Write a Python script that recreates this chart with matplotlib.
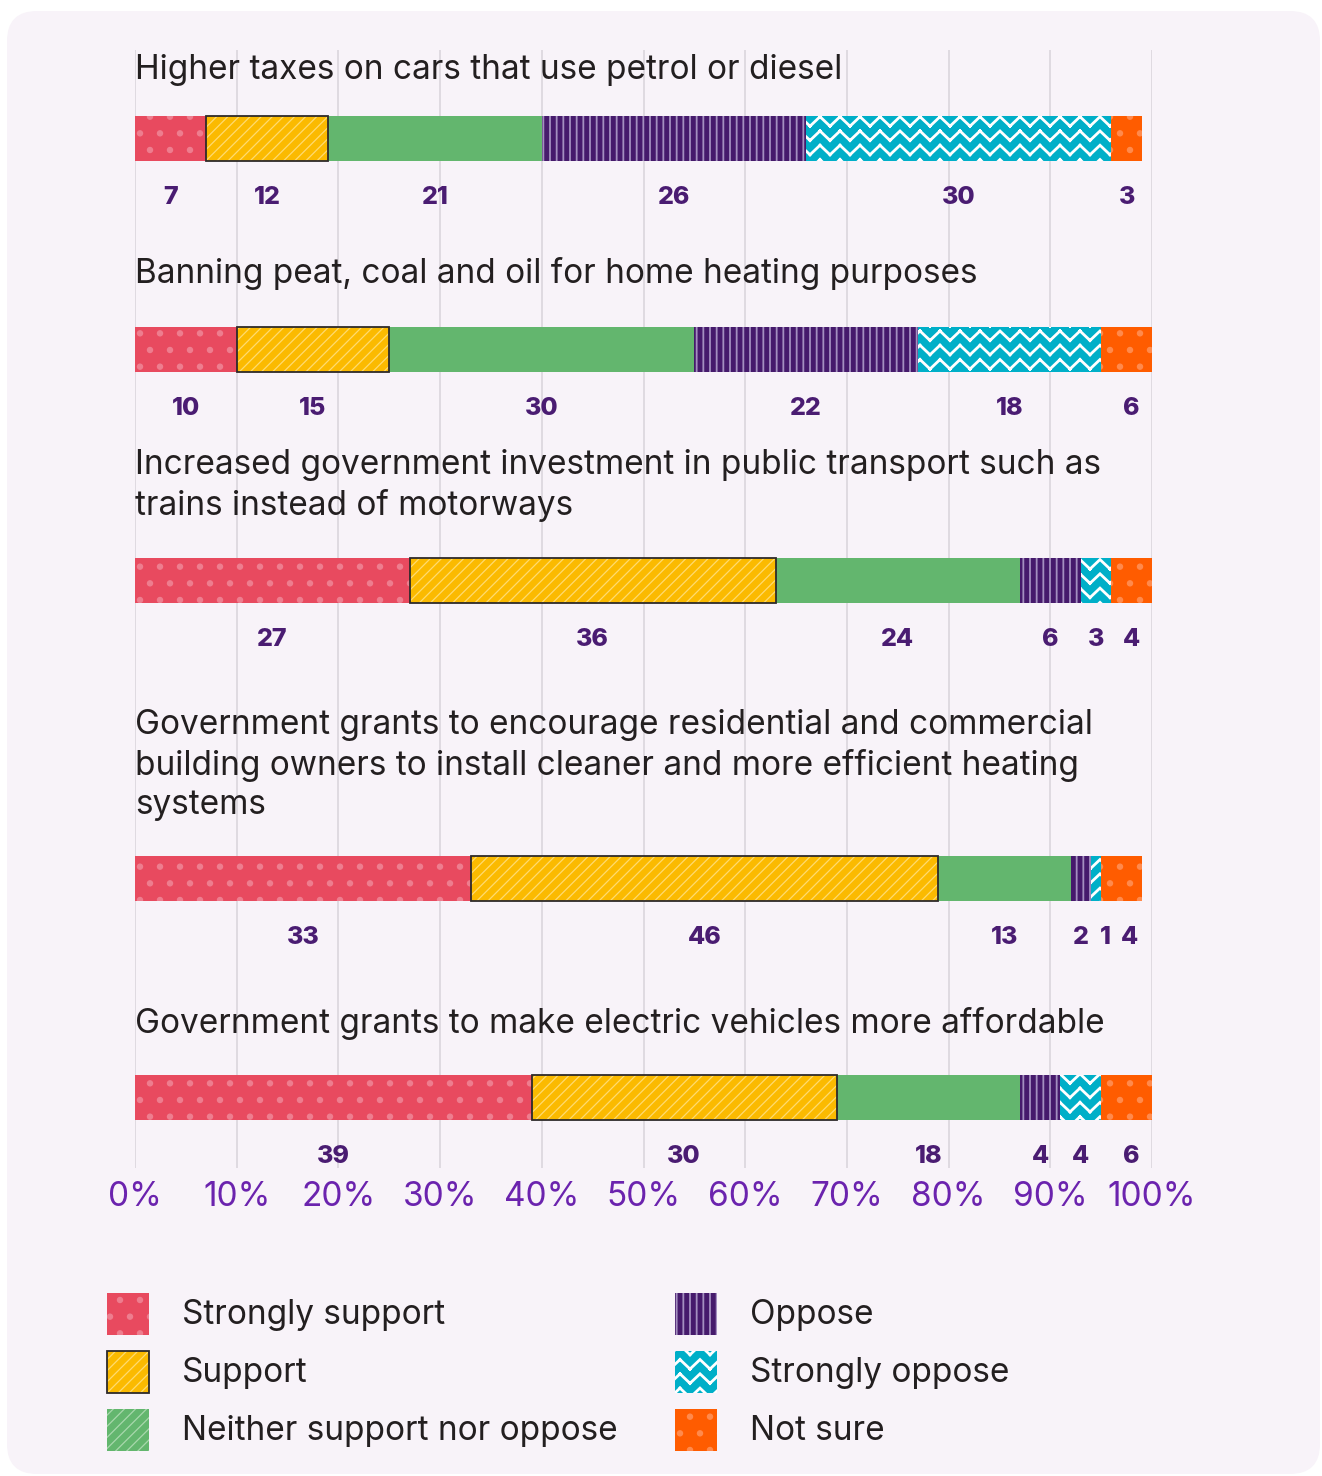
import numpy as np
import matplotlib
matplotlib.use("Agg")
import matplotlib.pyplot as plt
from matplotlib import hatch as mhatch
from matplotlib.path import Path
from matplotlib.patches import Rectangle, FancyBboxPatch

# ---------------------------------------------------------------- data
statements = [
    "Higher taxes on cars that use petrol or diesel",
    "Banning peat, coal and oil for home heating purposes",
    "Increased government investment in public transport such as\ntrains instead of motorways",
    "Government grants to encourage residential and commercial\nbuilding owners to install cleaner and more efficient heating\nsystems",
    "Government grants to make electric vehicles more affordable",
]
responses = ["Strongly support", "Support", "Neither support nor oppose",
             "Oppose", "Strongly oppose", "Not sure"]
strongly_support = [7, 10, 27, 33, 39]
support = [12, 15, 36, 46, 30]
neither = [21, 30, 24, 13, 18]
oppose = [26, 22, 6, 2, 4]
strongly_oppose = [30, 18, 3, 1, 4]
not_sure = [3, 6, 4, 4, 6]
tick_values = list(range(0, 101, 10))
tick_labels = [f"{v}%" for v in tick_values]

series = [strongly_support, support, neither, oppose, strongly_oppose, not_sure]


# ---------------------------------------------------------------- hatches
class VLineHatch(mhatch.HatchPatternBase):
    """Close-set vertical stripes ('|')."""
    per_mark = 15

    def __init__(self, hatch, density):
        self.num_lines = hatch.count('|') * self.per_mark
        self.num_vertices = self.num_lines * 2

    def set_vertices_and_codes(self, vertices, codes):
        steps = (np.arange(self.num_lines) + 0.5) / self.num_lines
        vertices[0::2, 0] = steps
        vertices[0::2, 1] = 0.0
        vertices[1::2, 0] = steps
        vertices[1::2, 1] = 1.0
        codes[0::2] = Path.MOVETO
        codes[1::2] = Path.LINETO


class DotHatch(mhatch.HatchPatternBase):
    """Staggered filled polka dots ('.')."""
    cols = 5
    rows = 6
    radius = 0.025

    def __init__(self, hatch, density):
        circ = Path.unit_circle()
        self.shape_v = circ.vertices * self.radius
        self.shape_c = circ.codes
        self.centres = []
        if '.' in hatch:
            for r in range(self.rows + 1):
                y = r / self.rows
                if r % 2 == 0:
                    xs = np.arange(self.cols + 1) / self.cols
                else:
                    xs = (np.arange(self.cols) + 0.5) / self.cols
                self.centres += [(x, y) for x in xs]
        self.num_vertices = len(self.centres) * len(self.shape_v)

    def set_vertices_and_codes(self, vertices, codes):
        vertices[:] = np.concatenate([self.shape_v + c for c in self.centres])
        codes[:] = np.tile(self.shape_c, len(self.centres))


class ZigzagHatch(mhatch.HatchPatternBase):
    """Rows of chevron zigzags ('*')."""
    cols = 5
    rows = 7
    amp = 0.095

    def __init__(self, hatch, density):
        self.on = '*' in hatch
        self.num_vertices = self.cols * self.rows * 4 if self.on else 0

    def set_vertices_and_codes(self, vertices, codes):
        w = 1.0 / self.cols
        pts = []
        for r in range(self.rows):
            y = (r + 0.5) / self.rows
            for c in range(self.cols):
                x0 = c * w
                hi, lo = y + self.amp / 2, y - self.amp / 2
                pts += [(x0, hi), (x0 + w / 2, lo), (x0 + w / 2, lo), (x0 + w, hi)]
        vertices[:] = pts
        codes[0::2] = Path.MOVETO
        codes[1::2] = Path.LINETO


mhatch._hatch_types = [mhatch.HorizontalHatch, VLineHatch, mhatch.NorthEastHatch,
                       mhatch.SouthEastHatch, DotHatch, ZigzagHatch]

# ---------------------------------------------------------------- styles
styles = [
    dict(face="#E84A5F", hatch=".", hcolor="#EE7D8E", hlw=1.0),
    dict(face="#FBBA00", hatch="///", hcolor="#FFDB70", hlw=0.9, edge="#2E2A2A"),
    dict(face="#63B66E", hatch=None, legend_hatch="///", hcolor="#A8D8AC", hlw=0.9),
    dict(face="#461A6C", hatch="|", hcolor="#A48FC0", hlw=1.3),
    dict(face="#00AFC8", hatch="*", hcolor="#FFFFFF", hlw=2.0),
    dict(face="#FF5C00", hatch=".", hcolor="#FF8A4C", hlw=1.0),
]
FONT = ["Inter", "DejaVu Sans"]
plt.rcParams['font.family'] = FONT
TEXT_DARK = "#231F20"
VALUE_COL = "#4A1C72"
TICK_COL = "#6B23AE"
GRID_COL = "#DAD6DD"
CARD_COL = "#F8F3F9"
TITLE_SIZE = 24
TICK_SIZE = 24
VALUE_SIZE = 18

# layout (pixels from top of the figure)
W, H = 1322, 1476
bar_centres = [138.5, 349.5, 580.5, 878.5, 1097.5]
title_first_line = [70, 274, 465, 725, 1023]
line_step = 40
bar_height = 45
label_offset = 59
min_label_gap = 2.4

fig = plt.figure(figsize=(W / 100, H / 100), dpi=100, facecolor="white")

# background axes in pixel units: card and legend
bg = fig.add_axes([0, 0, 1, 1], zorder=0)
bg.set_xlim(0, W)
bg.set_ylim(H, 0)
bg.axis("off")
bg.add_patch(FancyBboxPatch((7, 11), 1313, 1463,
                            boxstyle="round,pad=0,rounding_size=30",
                            facecolor=CARD_COL, edgecolor="none"))


def set_hlw(patch, lw):
    if hasattr(patch, "set_hatch_linewidth"):
        patch.set_hatch_linewidth(lw)


# main axes
top_px, bottom_px = 50, 1168
left_px, right_px = 135, 1152
ax = fig.add_axes([left_px / W, 1 - bottom_px / H,
                   (right_px - left_px) / W, (bottom_px - top_px) / H], zorder=2)
ax.set_facecolor("none")
ax.set_xlim(0, 100)
ax.set_ylim(bottom_px, top_px)
for s in ax.spines.values():
    s.set_visible(False)
ax.set_yticks([])
ax.set_xticks(tick_values)
ax.set_xticklabels(tick_labels)
ax.tick_params(axis="x", length=0, pad=9, labelsize=TICK_SIZE, labelcolor=TICK_COL)
ax.grid(axis="x", color=GRID_COL, linewidth=1.2, zorder=0)
ax.set_axisbelow(True)

data = np.array(series, dtype=float)          # (response, statement)
lefts = np.vstack([np.zeros(data.shape[1]), np.cumsum(data, axis=0)[:-1]])

for k, st in enumerate(styles):
    with plt.rc_context({"hatch.linewidth": st["hlw"]}):
        bars = ax.barh(bar_centres, data[k], left=lefts[k], height=bar_height,
                       color=st["face"], edgecolor=st["hcolor"], linewidth=0,
                       hatch=st["hatch"], zorder=2)
        for b in bars:
            set_hlw(b, st["hlw"])
    if "edge" in st:
        ax.barh(bar_centres, data[k], left=lefts[k], height=bar_height,
                fill=False, edgecolor=st["edge"], linewidth=1.3, zorder=3)

# statement titles
for i, text in enumerate(statements):
    for j, line in enumerate(text.split("\n")):
        ax.text(0, title_first_line[i] + j * line_step, line, ha="left", va="center",
                fontsize=TITLE_SIZE, color=TEXT_DARK, zorder=4)

# value labels under each segment, nudged apart when crowded
for i in range(data.shape[1]):
    centres = lefts[:, i] + data[:, i] / 2
    pos = centres.copy()
    for k in range(1, len(pos)):
        pos[k] = max(pos[k], pos[k - 1] + min_label_gap)
    for k in range(len(pos)):
        ax.text(pos[k], bar_centres[i] + label_offset, f"{int(data[k, i])}",
                ha="center", va="center", fontsize=VALUE_SIZE, fontweight="heavy",
                color=VALUE_COL, zorder=4)

# legend
leg_cols_x = [107, 675]
leg_rows_y = [1293, 1351, 1409]
box = 42
for k, (name, st) in enumerate(zip(responses, styles)):
    x0 = leg_cols_x[k // 3]
    y0 = leg_rows_y[k % 3]
    hatch = st.get("legend_hatch", st["hatch"])
    with plt.rc_context({"hatch.linewidth": st["hlw"]}):
        p = Rectangle((x0, y0), box, box, facecolor=st["face"],
                      edgecolor=st["hcolor"], linewidth=0, hatch=hatch)
        set_hlw(p, st["hlw"])
        bg.add_patch(p)
    if "edge" in st:
        bg.add_patch(Rectangle((x0, y0), box, box, fill=False,
                               edgecolor=st["edge"], linewidth=1.3))
    bg.text(x0 + 75, y0 + box / 2 + 1, name, ha="left", va="center",
            fontsize=TITLE_SIZE, color=TEXT_DARK)

fig.savefig("out.png", dpi=100, facecolor="white")
